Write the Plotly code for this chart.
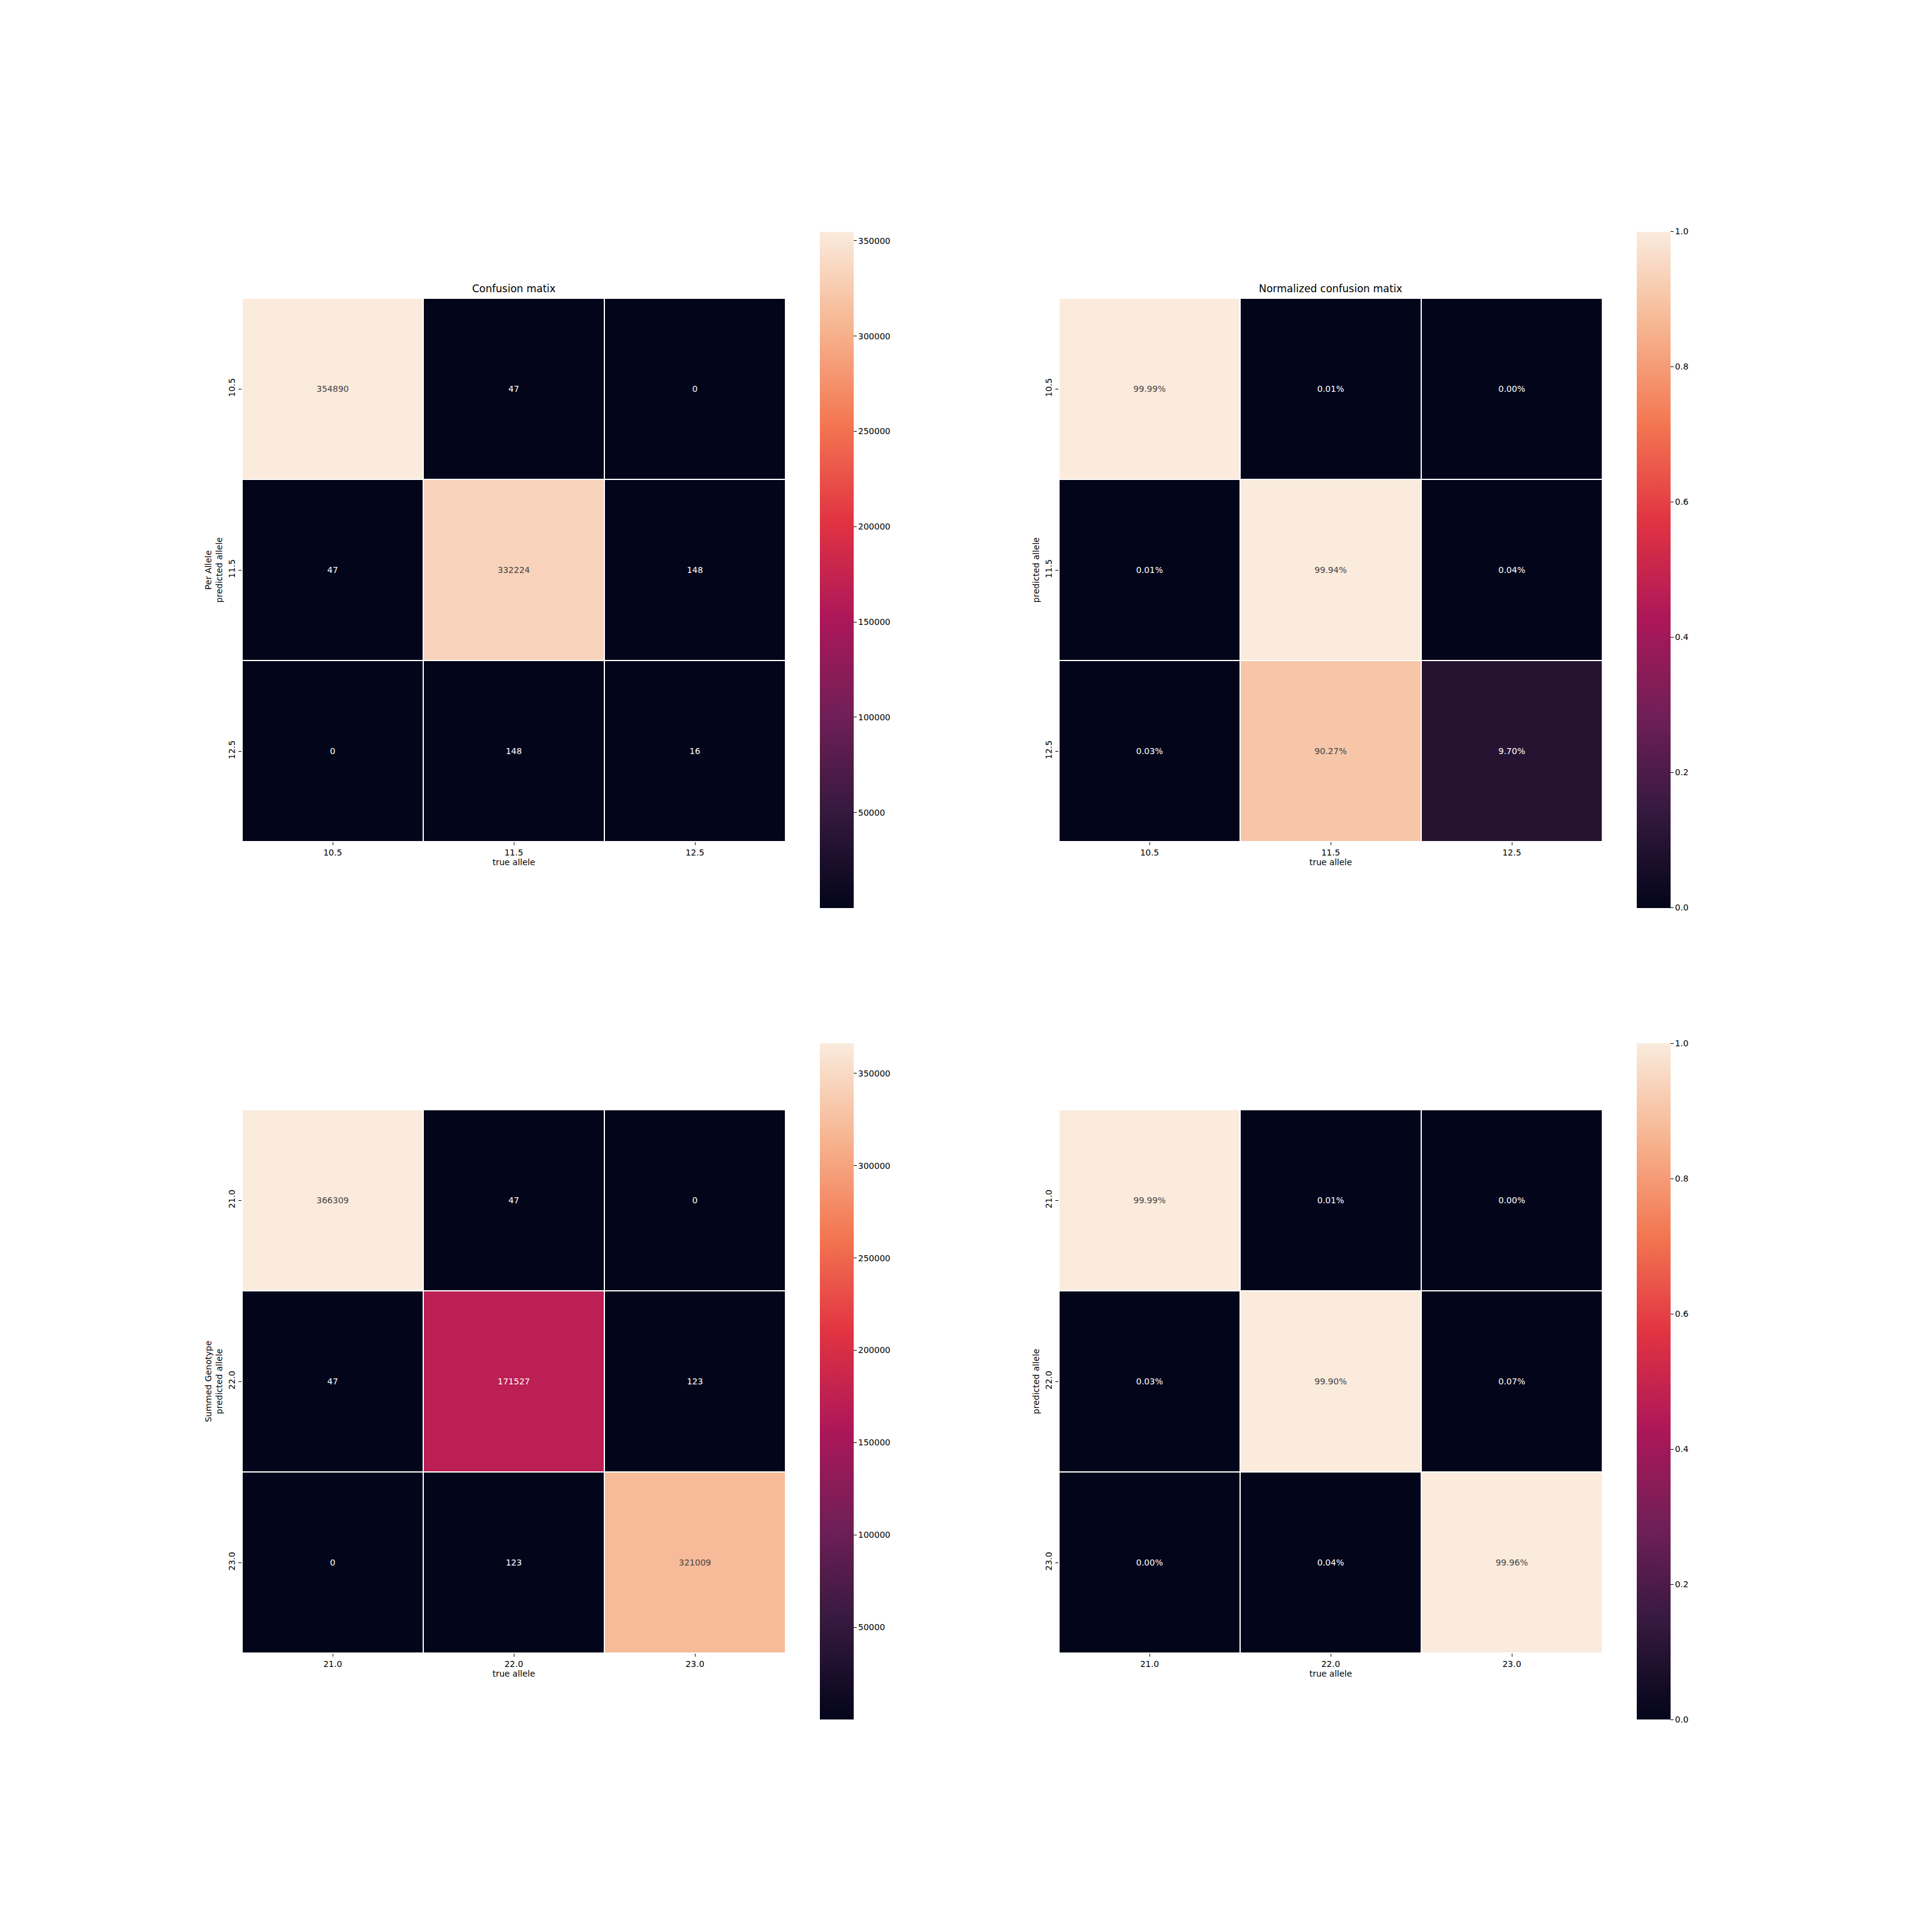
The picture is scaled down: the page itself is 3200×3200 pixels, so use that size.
import plotly.graph_objects as go

W = H = 3200

# ---- data ----
per_allele_labels = ["10.5", "11.5", "12.5"]
summed_labels = ["21.0", "22.0", "23.0"]

per_allele_counts = [
    [354890, 47, 0],
    [47, 332224, 148],
    [0, 148, 16],
]
per_allele_norm = [
    [0.9999, 0.0001, 0.0000],
    [0.0001, 0.9994, 0.0004],
    [0.0003, 0.9027, 0.0970],
]
summed_counts = [
    [366309, 47, 0],
    [47, 171527, 123],
    [0, 123, 321009],
]
summed_norm = [
    [0.9999, 0.0001, 0.0000],
    [0.0003, 0.9990, 0.0007],
    [0.0000, 0.0004, 0.9996],
]

count_ticks = [50000, 100000, 150000, 200000, 250000, 300000, 350000]
norm_ticks = [0.0, 0.2, 0.4, 0.6, 0.8, 1.0]

titles = ["Confusion matix", "Normalized confusion matix"]
row_labels = ["Per Allele", "Summed Genotype"]

# rocket colormap approximation
rocket = [
    [0.0, "#03051a"],
    [1 / 7, "#35193e"],
    [2 / 7, "#701f57"],
    [3 / 7, "#ad1759"],
    [4 / 7, "#e13342"],
    [5 / 7, "#f37651"],
    [6 / 7, "#f6b48f"],
    [1.0, "#faebdd"],
]

FONT = "DejaVu Sans"
FS = 14

def px_x(p):
    return p / W

def px_y(p):
    return 1 - p / H

col_x = [(401, 1301), (1754, 2654)]
row_y = [(494, 1394), (1838, 2738)]
cbar_x = [1358, 2711]
cbar_yc = [943.5, 2288]

fig = go.Figure()

panels = [
    (0, 0, per_allele_counts, per_allele_labels, False),
    (0, 1, per_allele_norm, per_allele_labels, True),
    (1, 0, summed_counts, summed_labels, False),
    (1, 1, summed_norm, summed_labels, True),
]

for i, (r, c, z, labels, norm) in enumerate(panels):
    n = i + 1
    xa = "x" if n == 1 else f"x{n}"
    ya = "y" if n == 1 else f"y{n}"
    zmax = 1.0 if norm else max(max(row) for row in z)
    cb = dict(
        x=px_x(cbar_x[c]), xanchor="left", xpad=0,
        y=px_y(cbar_yc[r]), yanchor="middle", ypad=0,
        thickness=56, thicknessmode="pixels",
        len=1120, lenmode="pixels",
        outlinewidth=0,
        ticks="outside", ticklen=5, tickwidth=1, tickcolor="black",
        tickfont=dict(family=FONT, size=FS, color="black"),
    )
    if norm:
        cb.update(tickmode="array", tickvals=norm_ticks, tickformat=".1f")
    else:
        cb.update(tickmode="array", tickvals=count_ticks, tickformat="d")
    fig.add_trace(go.Heatmap(
        z=z, x=labels, y=labels,
        colorscale=rocket, zmin=0, zmax=zmax,
        xgap=2, ygap=2,
        texttemplate="%{z:.2%}" if norm else "%{z:d}",
        textfont=dict(family=FONT, size=FS),
        colorbar=cb,
        xaxis=xa, yaxis=ya,
        hoverinfo="skip",
    ))
    xkey = "xaxis" if n == 1 else f"xaxis{n}"
    ykey = "yaxis" if n == 1 else f"yaxis{n}"
    ytitle = (row_labels[r] + "<br>predicted allele") if c == 0 else "predicted allele"
    fig.layout[xkey] = dict(
        domain=[px_x(col_x[c][0]), px_x(col_x[c][1])],
        anchor=ya, type="category",
        showgrid=False, zeroline=False, showline=False,
        ticks="outside", ticklen=5, tickwidth=1, tickcolor="black",
        tickfont=dict(family=FONT, size=FS, color="black"),
        title=dict(text="true allele", font=dict(family=FONT, size=FS, color="black"), standoff=4),
    )
    fig.layout[ykey] = dict(
        domain=[px_y(row_y[r][1]), px_y(row_y[r][0])],
        anchor=xa, type="category", autorange="reversed",
        showgrid=False, zeroline=False, showline=False,
        ticks="outside", ticklen=5, tickwidth=1, tickcolor="black",
        tickangle=-90,
        tickfont=dict(family=FONT, size=FS, color="black"),
        title=dict(text=ytitle, font=dict(family=FONT, size=FS, color="black"), standoff=4),
    )

annotations = []
for c in range(2):
    annotations.append(dict(
        text=titles[c], showarrow=False,
        xref="paper", yref="paper",
        x=(px_x(col_x[c][0]) + px_x(col_x[c][1])) / 2,
        y=px_y(row_y[0][0]), yanchor="bottom", xanchor="center", yshift=4,
        font=dict(family=FONT, size=17, color="black"),
    ))

fig.update_layout(
    width=W, height=H,
    margin=dict(l=0, r=0, t=0, b=0),
    paper_bgcolor="white", plot_bgcolor="white",
    showlegend=False,
    annotations=annotations,
    font=dict(family=FONT, size=FS, color="black"),
)

fig.write_html("out.html")
